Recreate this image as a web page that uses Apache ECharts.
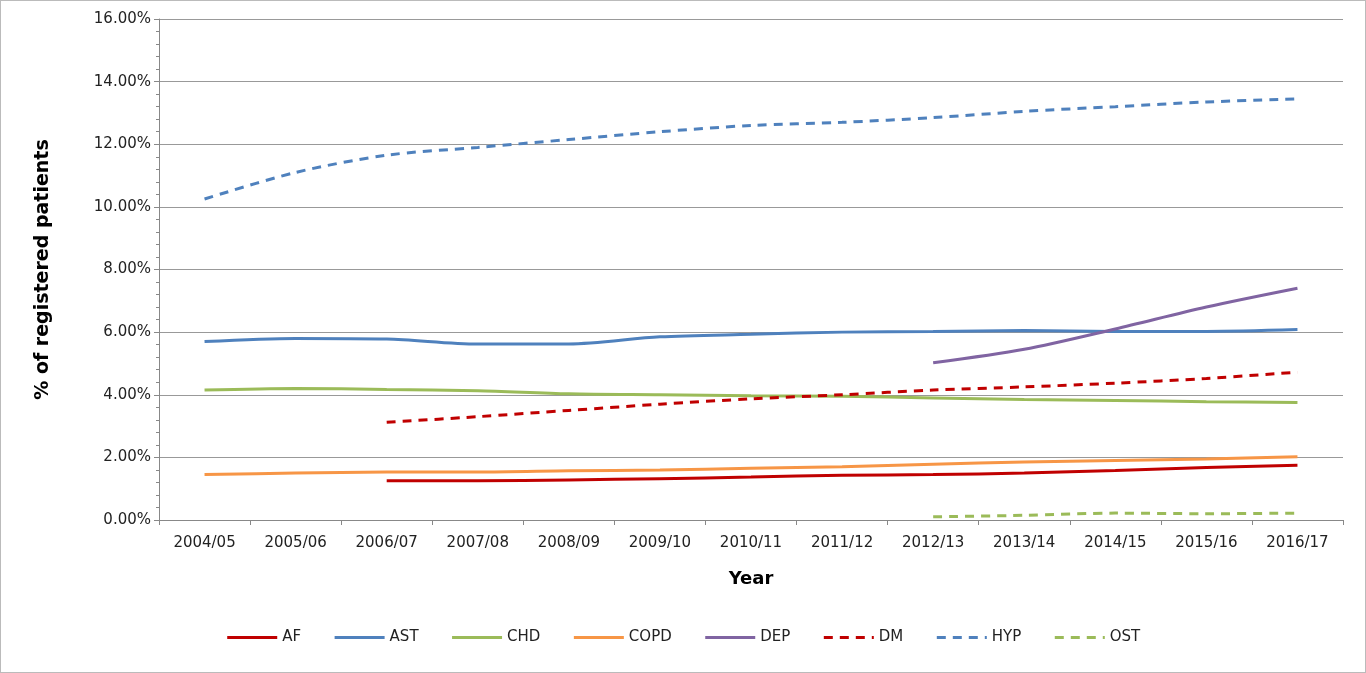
<!DOCTYPE html>
<html lang="en">
<head>
<meta charset="UTF-8">
<title>registered patients</title>
<script src="https://cdn.jsdelivr.net/npm/echarts@6/dist/echarts.min.js"></script>
<style>
    * { margin: 0; padding: 0; box-sizing: border-box; }
    body { background: #fff; }
    #paint { width: 1366px; height: 673px; border: 1px solid #bbb; }
</style>
</head>
<body>
<div id="paint"></div>
<script>
    var years = ['2004/05','2005/06','2006/07','2007/08','2008/09','2009/10','2010/11','2011/12','2012/13','2013/14','2014/15','2015/16','2016/17'];
    var af   = [null, null, 1.25, 1.25, 1.28, 1.32, 1.37, 1.43, 1.45, 1.50, 1.58, 1.68, 1.75];
    var ast  = [5.70, 5.80, 5.78, 5.62, 5.62, 5.85, 5.93, 6.00, 6.02, 6.05, 6.02, 6.02, 6.08];
    var chd  = [4.15, 4.20, 4.17, 4.13, 4.03, 4.00, 3.97, 3.95, 3.90, 3.85, 3.82, 3.78, 3.75];
    var copd = [1.45, 1.50, 1.53, 1.53, 1.57, 1.60, 1.65, 1.70, 1.78, 1.85, 1.90, 1.95, 2.02];
    var dep  = [null, null, null, null, null, null, null, null, 5.02, 5.45, 6.10, 6.80, 7.40];
    var dm   = [null, null, 3.12, 3.30, 3.50, 3.70, 3.87, 4.00, 4.15, 4.25, 4.37, 4.52, 4.72];
    var hyp  = [10.25, 11.10, 11.65, 11.90, 12.15, 12.40, 12.60, 12.70, 12.85, 13.05, 13.20, 13.35, 13.45];
    var ost  = [null, null, null, null, null, null, null, null, 0.10, 0.15, 0.22, 0.20, 0.22];

    function line(name, data, color, dashed) {
        return {
            name: name, type: 'line', data: data, smooth: 0.3, symbol: 'none',
            lineStyle: { color: color, width: 3, type: dashed ? [9, 7] : 'solid' },
            itemStyle: { color: color }
        };
    }

    var chart = echarts.init(document.getElementById('paint'));
    chart.setOption({
        animation: false,
        textStyle: { fontFamily: 'DejaVu Sans' },
        grid: { left: 158, right: 22, top: 18, bottom: 152 },
        xAxis: {
            type: 'category', data: years, name: 'Year', nameLocation: 'middle', nameGap: 50,
            nameTextStyle: { fontSize: 18, fontWeight: 'bold', color: '#000' },
            axisLine: { lineStyle: { color: '#888' } },
            axisTick: { show: true, lineStyle: { color: '#888' } },
            axisLabel: { color: '#222', fontSize: 15, margin: 16 }
        },
        yAxis: {
            type: 'value', min: 0, max: 16, interval: 2,
            name: '% of registered patients', nameLocation: 'middle', nameGap: 106,
            nameTextStyle: { fontSize: 19, fontWeight: 'bold', color: '#000' },
            axisLine: { show: true, lineStyle: { color: '#888' } },
            axisTick: { show: true, lineStyle: { color: '#888' } },
            minorTick: { show: true, splitNumber: 5, lineStyle: { color: '#888' } },
            splitLine: { lineStyle: { color: '#999' } },
            axisLabel: { color: '#222', fontSize: 15, formatter: function (v) { return v.toFixed(2) + '%'; } }
        },
        legend: {
            bottom: 22, itemWidth: 50, itemHeight: 14, itemGap: 32,
            itemStyle: { opacity: 0 },
            lineStyle: { width: 3 },
            textStyle: { fontSize: 15, color: '#222' }
        },
        series: [
            line('AF', af, '#c00000', false),
            line('AST', ast, '#4f81bd', false),
            line('CHD', chd, '#9bbb59', false),
            line('COPD', copd, '#f79646', false),
            line('DEP', dep, '#8064a2', false),
            line('DM', dm, '#c00000', true),
            line('HYP', hyp, '#4f81bd', true),
            line('OST', ost, '#9bbb59', true)
        ]
    });
</script>
</body>
</html>
